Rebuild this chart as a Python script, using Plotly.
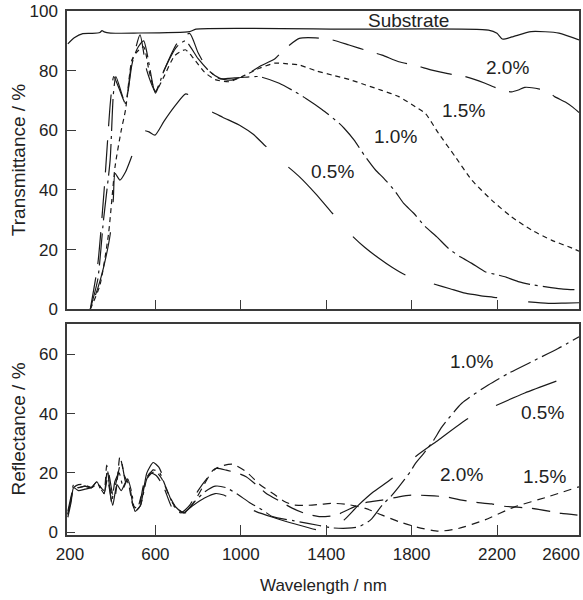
import plotly.graph_objects as go

# ---------------- Transmittance (top panel) ----------------
sub_nm = [190, 220, 260, 300, 340, 350, 360, 390, 500, 760, 790, 1500, 2160, 2200, 2225, 2270, 2360, 2490, 2584]
sub_T = [89, 91, 92.4, 92.5, 92.8, 93.4, 93, 92.6, 92.6, 93.1, 93.9, 93.9, 93.6, 92.5, 90.6, 91.3, 93.1, 92.6, 90.3]

t05_nm = [295, 330, 357, 388, 403, 411, 434, 460, 489, 515, 540, 570, 598, 640, 690, 742, 780, 820, 857, 915,
          1002, 1060, 1110, 1160, 1216, 1274, 1350, 1429, 1480, 1522, 1580, 1647, 1710, 1771, 1840, 1903, 1980,
          2051, 2120, 2198, 2270, 2348, 2441, 2520, 2584]
t05_T = [0, 7, 14, 25, 37, 45.6, 43.3, 46, 51.2, 56, 59.9, 59.5, 58.4, 63, 68, 72.2, 71, 69, 66.5, 64.4,
         61.4, 58.6, 55.1, 51.8, 48.1, 44.5, 38.8, 32.2, 28, 24.6, 20.8, 17.1, 14, 11.5, 9.8, 8.5, 6.9,
         5.4, 4.6, 3.9, 3.1, 2.5, 2.0, 2.1, 2.2]

t10_nm = [295, 330, 357, 388, 403, 415, 460, 490, 520, 545, 600, 640, 700, 740, 800, 850, 900, 940, 1000, 1087,
          1180, 1240, 1305, 1380, 1460, 1484, 1530, 1580, 1631, 1670, 1720, 1763, 1810, 1860, 1918, 1973, 2030,
          2082, 2144, 2200, 2237, 2299, 2360, 2453, 2510, 2584]
t10_T = [0, 10, 30, 50, 72, 78, 69, 83, 88, 90, 72.5, 80, 88, 90, 84, 80, 77.3, 77.4, 77.7, 78,
         75.8, 73.5, 70.7, 67, 62.4, 60.7, 56.8, 51.5, 46.7, 43.9, 39.8, 35.5, 32.2, 28, 24.3, 20.4, 17.5,
         15.4, 12.6, 11.6, 10.9, 9.3, 8.3, 7.3, 6.8, 6.5]

t15_nm = [295, 340, 380, 411, 440, 460, 490, 510, 545, 570, 600, 640, 690, 740, 780, 830, 880, 947, 1020, 1087,
          1158, 1220, 1274, 1350, 1429, 1510, 1585, 1660, 1740, 1818, 1864, 1926, 2004, 2082, 2175, 2268, 2361,
          2455, 2556, 2584]
t15_T = [0, 8, 25, 47.8, 60, 66.8, 83.6, 86, 88, 80, 73, 78, 85, 87, 84, 79.5, 77, 76.3, 78.5, 80.8,
         82.5, 82.3, 81.9, 80, 78.5, 77, 75.2, 73.4, 71.3, 67.9, 65.7, 59, 51.2, 43.3, 36.6, 31, 26.6,
         23.2, 20.4, 19.5]

t20_nm = [295, 330, 360, 390, 405, 430, 460, 490, 528, 560, 600, 640, 700, 760, 800, 850, 900, 950, 1025, 1090,
          1160, 1200, 1274, 1350, 1429, 1507, 1600, 1662, 1740, 1820, 1895, 1970, 2051, 2144, 2183, 2230, 2268,
          2300, 2330, 2400, 2441, 2470, 2520, 2556, 2584]
t20_T = [0, 15, 40, 70, 78, 74, 69, 82, 92, 80, 73, 80, 89, 92.5, 86, 80, 77.5, 76.8, 78.6, 81.5,
         84, 86.9, 90.8, 91, 90.3, 88.6, 86.5, 85.2, 83, 81.7, 80.2, 79, 78, 75.8, 74.6, 73.4, 72.9,
         73.5, 74.4, 73.8, 72.9, 71.3, 69.5, 67.7, 66]

# ---------------- Reflectance (bottom panel) ----------------
r05_nm = [190, 205, 217, 240, 270, 300, 326, 345, 360, 375, 400, 420, 440, 466, 490, 505, 530, 560, 590, 615,
          640, 683, 730, 776, 830, 880, 920, 960, 1010, 1072, 1150, 1250, 1367, 1420, 1484, 1550, 1620, 1708,
          1817, 1926, 2066, 2191, 2330, 2478]
r05_R = [5, 10, 15, 14, 14.5, 15, 17, 14, 12.5, 18, 9, 16, 14, 17.5, 12, 7, 9, 20, 23.5, 22,
         18, 9.5, 6.5, 9, 11.5, 13, 12.5, 11, 9, 6.9, 5, 2.8, 0.6, 0.8, 4.1, 9, 13.5, 18.1,
         25.4, 31.1, 38.4, 42.6, 47, 51]

r10_nm = [190, 205, 217, 240, 270, 300, 326, 345, 360, 375, 395, 410, 430, 450, 470, 490, 505, 530, 560, 590,
          620, 650, 690, 735, 780, 830, 880, 930, 980, 1040, 1100, 1149, 1250, 1367, 1430, 1500, 1553, 1608,
          1662, 1701, 1740, 1794, 1818, 1856, 1903, 1942, 2035, 2159, 2253, 2361, 2486, 2584]
r10_R = [6, 11, 16, 15, 15.5, 15, 17, 15, 13, 21, 10, 17, 20, 15, 18, 13, 7, 9, 18, 21,
         20, 15, 8.5, 6.5, 10, 13.5, 15.5, 15, 13, 10, 7.5, 5.2, 3.8, 2.2, 1.4, 1.3, 1.8, 4.1,
         9.1, 11.9, 15.3, 20.4, 23.2, 26.5, 31, 35.5, 43.5, 49.7, 53.6, 57.5, 62, 66]

r15_nm = [190, 205, 217, 240, 270, 300, 326, 345, 360, 372, 390, 410, 434, 455, 475, 495, 515, 540, 570, 600,
          630, 660, 700, 740, 780, 820, 870, 920, 963, 1025, 1090, 1149, 1200, 1243, 1300, 1367, 1430, 1500,
          1584, 1662, 1740, 1818, 1926, 2019, 2143, 2283, 2438, 2584]
r15_R = [6, 11, 15, 16, 16, 15, 16.5, 15, 14, 22.6, 14, 12, 25.5, 19, 16, 9, 8, 14, 19, 20.5,
         18, 13, 8, 6.5, 10, 15, 20.9, 22.5, 22.9, 20.4, 16, 13.1, 10.5, 9.2, 9, 9.3, 9.7, 9.3,
         8, 5.7, 3.5, 1.8, 0.3, 1.2, 4.1, 8.5, 11.9, 15.3]

r20_nm = [190, 205, 217, 240, 270, 300, 326, 345, 360, 380, 400, 420, 440, 460, 480, 500, 520, 545, 575, 605,
          640, 680, 720, 760, 800, 840, 885, 932, 980, 1025, 1080, 1118, 1180, 1243, 1300, 1367, 1445, 1569,
          1662, 1740, 1802, 1880, 1958, 2035, 2082, 2175, 2222, 2361, 2455, 2501, 2584]
r20_R = [7, 12, 15, 15, 15.5, 15, 16, 14.5, 13, 20, 13, 18, 24, 17, 15, 8, 8, 16, 20, 19,
         15, 8, 6.5, 9, 14, 18, 21.5, 20.9, 20, 18.7, 15.5, 13.1, 10.5, 8, 6.3, 5.2, 5.7, 9.7,
         10.8, 11.9, 12.5, 12.3, 11.9, 10.8, 10.2, 9.5, 8.8, 8, 6.9, 6.3, 5.7]

# axis ticks / labels
x_tick_vals = [200, 600, 1000, 1400, 1800, 2200, 2500]
x_tick_text = ["200", "600", "1000", "1400", "1800", "2200", "2600"]
x_minor_ticks = [600, 1000, 1400, 1800, 2200]
yT_ticks = [0, 20, 40, 60, 80, 100]
yR_ticks = [0, 20, 40, 60]

LINE = "#1a1a1a"
FRAME = "#3a3a3a"
FONT = "Liberation Sans, Arial, sans-serif"

# dash patterns (0.5 % curves are drawn from the long-wavelength end so the dashes line up there)
DASH_T05 = "51px,31px," + ",".join(["65px,30px"] * 14)
DASH_R05 = "65px,31px"

fig = go.Figure()


def add(x, y, dash, xa, ya, width=1.2):
    fig.add_trace(go.Scatter(x=x, y=y, mode="lines", xaxis=xa, yaxis=ya,
                             line=dict(color=LINE, width=width, dash=dash, shape="spline", smoothing=0.6),
                             showlegend=False, hoverinfo="skip"))


add(sub_nm, sub_T, "solid", "x", "y")
add(t05_nm[::-1], t05_T[::-1], DASH_T05, "x", "y")
add(t10_nm, t10_T, "32px,5px,3px,5px", "x", "y")
add(t15_nm, t15_T, "5px,4px", "x", "y")
add(t20_nm, t20_T, "32px,14px", "x", "y")

add(r05_nm[::-1], r05_R[::-1], DASH_R05, "x2", "y2")
add(r10_nm, r10_R, "22px,5px,3px,5px", "x2", "y2")
add(r15_nm, r15_R, "8px,6px", "x2", "y2")
add(r20_nm, r20_R, "18px,10px", "x2", "y2")

axis_common = dict(showline=True, mirror=True, linecolor=FRAME, linewidth=1.5, showgrid=False,
                   zeroline=False, tickcolor=FRAME, tickwidth=1.3,
                   tickfont=dict(family=FONT, size=17, color="#222"))

fig.update_layout(
    width=583, height=600,
    margin=dict(l=67, r=2, t=11, b=65),
    paper_bgcolor="white", plot_bgcolor="white",
    font=dict(family=FONT, color="#222"),
    xaxis=dict(domain=[0, 1], anchor="y", range=[186, 2584], tickvals=x_minor_ticks, ticks="inside",
               ticklen=10, showticklabels=False, **axis_common),
    yaxis=dict(domain=[0.4307, 1], anchor="x", range=[0, 100], tickvals=yT_ticks, ticks="inside",
               ticklen=9, ticklabelstandoff=4, **axis_common),
    xaxis2=dict(domain=[0, 1], anchor="y2", range=[186, 2584], tickvals=x_tick_vals, ticktext=x_tick_text,
                ticks="", ticklabelstandoff=3,
                minor=dict(tickvals=x_minor_ticks, ticks="inside", ticklen=10, tickcolor=FRAME, tickwidth=1.3),
                **axis_common),
    yaxis2=dict(domain=[0, 0.4027], anchor="x2", range=[-1.0, 70.3], tickvals=yR_ticks, ticks="inside",
                ticklen=8, ticklabelstandoff=4, **axis_common),
)

ann_font = dict(family=FONT, size=19, color="#222")
labels_top = [("Substrate", 1784, 96.7), ("2.0%", 2248, 81.2), ("1.5%", 2045, 66.5),
              ("1.0%", 1724, 57.9), ("0.5%", 1431, 46.1)]
labels_bot = [("1.0%", 2080, 57.5), ("0.5%", 2415, 40.3), ("2.0%", 2035, 19.3), ("1.5%", 2421, 18.7)]
for t, x, y in labels_top:
    fig.add_annotation(text=t, x=x, y=y, xref="x", yref="y", showarrow=False, font=ann_font)
for t, x, y in labels_bot:
    fig.add_annotation(text=t, x=x, y=y, xref="x2", yref="y2", showarrow=False, font=ann_font)

title_font = dict(family=FONT, size=19, color="#222")
fig.add_annotation(text="Transmittance / %", xref="paper", yref="paper", x=0, y=(0.4307 + 1) / 2,
                   xanchor="center", yanchor="middle",
                   xshift=-49, textangle=-90, showarrow=False, font=title_font)
fig.add_annotation(text="Reflectance / %", xref="paper", yref="paper", x=0, y=0.4027 / 2,
                   xanchor="center", yanchor="middle",
                   xshift=-49, textangle=-90, showarrow=False, font=title_font)
fig.add_annotation(text="Wavelength / nm", xref="paper", yref="paper", x=(325 - 67) / 514, y=0,
                   xanchor="center", yanchor="middle",
                   yshift=-50, showarrow=False, font=dict(family=FONT, size=17, color="#222"))

fig.write_html("out.html")
